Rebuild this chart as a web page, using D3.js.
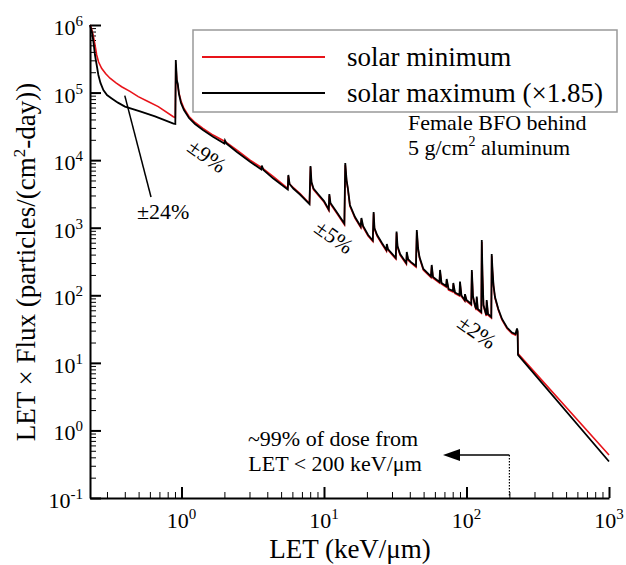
<!DOCTYPE html>
<html>
<head>
<meta charset="utf-8">
<script src="https://cdn.jsdelivr.net/npm/d3@7"></script>
<style>
  body { margin: 0; background: #fff; }
  svg { display: block; }
  text { font-family: "Liberation Serif", "Times New Roman", Times, serif; }
</style>
</head>
<body>
<svg id="chart" width="626" height="565"></svg>
<script>
// LET (keV/um) vs LET x Flux
var solarMin = [
  [0.228, 1.0e6], [0.234, 8.7e5], [0.240, 7.1e5], [0.247, 5.1e5], [0.254, 3.6e5],
  [0.262, 2.83e5], [0.275, 2.29e5], [0.293, 1.91e5], [0.315, 1.63e5], [0.347, 1.39e5],
  [0.380, 1.22e5], [0.435, 1.04e5], [0.497, 8.7e4], [0.582, 7.4e4], [0.687, 6.2e4],
  [0.876, 4.4e4], [0.905, 4.28e4], [0.912, 2.65e5], [0.927, 1.53e5], [0.942, 1.25e5],
  [0.960, 9.9e4], [0.992, 7.5e4], [1.041, 5.81e4], [1.129, 4.43e4], [1.244, 3.61e4],
  [1.415, 2.96e4], [1.664, 2.35e4], [2.02, 1.89e4], [2.45, 1.41e4], [3.03, 1.0e4],
  [3.66, 7.71e3], [4.39, 5.73e3], [5.57, 3.83e3], [5.62, 5.82e3], [5.73, 4.44e3],
  [6.09, 3.94e3], [6.79, 3.21e3], [7.91, 2.28e3], [8.04, 7.91e3], [8.17, 4.59e3],
  [8.44, 3.67e3], [9.08, 3.05e3], [10.0, 2.40e3], [10.8, 1.80e3], [10.9, 3.0e3],
  [11.1, 2.24e3], [12.2, 1.68e3], [13.9, 1.11e3], [14.1, 8.47e3], [14.4, 4.91e3],
  [14.7, 3.74e3], [15.2, 2.09e3], [16.5, 1.39e3], [18.1, 1.01e3], [18.3, 1.32e3],
  [18.8, 1.02e3], [20.4, 753], [22.0, 625], [22.3, 1.62e3], [22.6, 957],
  [23.6, 753], [25.5, 574], [27.4, 452], [27.6, 546], [28.1, 468],
  [31.9, 344], [32.3, 836], [32.8, 518], [34.2, 394], [37.8, 290],
  [38.1, 415], [38.9, 333], [40.8, 301], [44.2, 262], [44.8, 863],
  [45.7, 484], [46.8, 356], [49.8, 237], [56.3, 183], [57.0, 267],
  [58.2, 180], [64.6, 152], [65.2, 225], [66.8, 147], [72.0, 132],
  [72.6, 166], [74.8, 120], [80.4, 112], [80.8, 144], [83.0, 106],
  [89.3, 97.5], [90.0, 152], [92.2, 95.9], [97.1, 82.2], [97.6, 99.3],
  [100, 82.2], [108, 71.8], [109, 221], [111, 94.2], [115, 67.0],
  [117, 60.5], [118, 91.2], [120, 60.5], [127, 54.7], [128, 614],
  [129.5, 193], [131.6, 69.3], [137.7, 49.3], [138.6, 80.9], [141.6, 51.0],
  [149.3, 46.1], [150.3, 381], [152.2, 225], [154.7, 137], [158.5, 91.2],
  [167.2, 60.5], [177.5, 43.1], [192.4, 32.2], [208.6, 27.2], [220.8, 25.8],
  [226.2, 31.1], [228.4, 28.6], [229.8, 13.7], [1000, 0.433]
];

var solarMax = [
  [0.228, 1.0e6], [0.236, 7.6e5], [0.241, 5.6e5], [0.247, 3.6e5], [0.254, 2.56e5],
  [0.261, 1.82e5], [0.270, 1.39e5], [0.283, 1.09e5], [0.300, 9.2e4], [0.324, 8.2e4],
  [0.358, 7.1e4], [0.401, 6.2e4], [0.512, 5.25e4], [0.652, 4.43e4], [0.879, 3.48e4],
  [0.905, 3.43e4], [0.912, 3.03e5], [0.927, 1.53e5], [0.942, 1.34e5], [0.960, 9.5e4],
  [0.992, 7.0e4], [1.041, 5.52e4], [1.129, 4.2e4], [1.244, 3.43e4], [1.415, 2.79e4],
  [1.664, 2.22e4], [2.00, 1.76e4], [2.02, 1.95e4], [2.07, 1.76e4], [2.45, 1.32e4],
  [3.03, 9.48e3], [3.63, 7.27e3], [3.66, 8.33e3], [3.76, 7.15e3], [4.39, 5.38e3],
  [5.57, 3.67e3], [5.62, 6.03e3], [5.73, 4.44e3], [6.09, 3.80e3], [6.79, 3.10e3],
  [7.91, 2.24e3], [8.04, 8.18e3], [8.17, 4.74e3], [8.44, 3.80e3], [9.08, 3.15e3],
  [10.0, 2.48e3], [10.8, 1.86e3], [10.9, 3.15e3], [11.1, 2.32e3], [12.2, 1.74e3],
  [13.9, 1.15e3], [14.1, 9.08e3], [14.4, 5.08e3], [14.7, 3.87e3], [15.2, 2.17e3],
  [16.5, 1.44e3], [18.1, 1.04e3], [18.3, 1.39e3], [18.8, 1.06e3], [20.4, 780],
  [22.0, 647], [22.3, 1.71e3], [22.6, 991], [23.6, 780], [25.5, 594],
  [27.4, 468], [27.6, 574], [28.1, 484], [31.9, 356], [32.3, 879],
  [32.8, 536], [34.2, 408], [37.8, 301], [38.1, 437], [38.9, 344],
  [40.8, 310], [44.2, 271], [44.8, 925], [45.7, 501], [46.8, 368],
  [49.8, 245], [56.3, 190], [57.0, 281], [58.2, 186], [64.6, 157],
  [65.2, 237], [66.8, 152], [72.0, 137], [72.6, 174], [74.8, 124],
  [80.4, 116], [80.8, 152], [83.0, 110], [89.3, 101], [90.0, 160],
  [92.2, 99.3], [97.1, 85.1], [97.6, 104], [100, 85.1], [108, 74.3],
  [109, 237], [111, 97.5], [115, 69.3], [117, 62.7], [118, 95.9],
  [120, 62.7], [127, 56.5], [128, 658], [129.5, 200], [131.6, 71.8],
  [137.7, 51.0], [138.6, 85.1], [141.6, 52.8], [149.3, 47.7], [150.3, 408],
  [152.2, 237], [154.7, 142], [158.5, 94.2], [167.2, 62.7], [177.5, 44.6],
  [192.4, 33.3], [208.6, 28.1], [220.8, 26.7], [226.2, 32.2], [228.4, 29.6],
  [229.8, 13.1], [1000, 0.347]
];

var xMajor = [1, 10, 100, 1000];
var yMajor = [0.1, 1, 10, 100, 1e3, 1e4, 1e5, 1e6];
var legendNames = ["solar minimum", "solar maximum (\u00d71.85)"];
var seriesColors = ["#e8141a", "#000"];

var svg = d3.select("#chart");

var x = d3.scaleLog().domain([0.228, 1000]).range([90, 609]);
var y = d3.scaleLog().domain([0.1, 1e6]).range([498, 25]);

// minor ticks (log scale gives 1..9 per decade)
var xMinor = x.ticks().filter(function (d) { return xMajor.indexOf(d) < 0; });
var yMinor = y.ticks().filter(function (d) { return yMajor.indexOf(d) < 0; });

var gx = svg.append("g").attr("transform", "translate(0,498)");
gx.call(d3.axisBottom(x).tickValues(xMinor).tickSize(-6).tickSizeOuter(0).tickFormat(""));
gx.select(".domain").remove();
gx.selectAll("line").attr("stroke-width", 1);
var gx2 = svg.append("g").attr("transform", "translate(0,498)");
gx2.call(d3.axisBottom(x).tickValues(xMajor).tickSize(-11).tickSizeOuter(0).tickFormat(""));
gx2.selectAll("line").attr("stroke-width", 2);
gx2.select(".domain").attr("stroke-width", 2);

var gy = svg.append("g").attr("transform", "translate(90,0)");
gy.call(d3.axisLeft(y).tickValues(yMinor).tickSize(-6).tickSizeOuter(0).tickFormat(""));
gy.select(".domain").remove();
gy.selectAll("line").attr("stroke-width", 1);
var gy2 = svg.append("g").attr("transform", "translate(90,0)");
gy2.call(d3.axisLeft(y).tickValues(yMajor).tickSize(-11).tickSizeOuter(0).tickFormat(""));
gy2.selectAll("line").attr("stroke-width", 2);
gy2.select(".domain").attr("stroke-width", 2);

// power-of-ten labels
function powLabel(sel) {
  sel.each(function (d) {
    var t = d3.select(this);
    t.append("tspan").text("10");
    t.append("tspan").attr("dy", -9).style("font-size", "15px")
      .text(Math.round(Math.log10(d)));
  });
}

svg.selectAll(".ylab").data(yMajor).enter().append("text")
  .attr("class", "ylab")
  .attr("x", 83)
  .attr("y", function (d) { return y(d) + 10; })
  .attr("text-anchor", "end")
  .style("font-size", "22px")
  .call(powLabel);

svg.selectAll(".xlab").data(xMajor).enter().append("text")
  .attr("class", "xlab")
  .attr("x", function (d) { return x(d); })
  .attr("y", 528)
  .attr("text-anchor", "middle")
  .style("font-size", "22px")
  .call(powLabel);

// axis titles
svg.append("text")
  .attr("x", 350).attr("y", 558)
  .attr("text-anchor", "middle")
  .style("font-size", "27px")
  .text("LET (keV/\u03bcm)");

var yt = svg.append("text")
  .attr("transform", "translate(35,262) rotate(-90)")
  .attr("text-anchor", "middle")
  .style("font-size", "27px");
yt.append("tspan").text("LET \u00d7 Flux (particles/(cm");
yt.append("tspan").attr("dy", -10).style("font-size", "17px").text("2");
yt.append("tspan").attr("dy", 10).text("-day))");

// curves
var line = d3.line()
  .x(function (d) { return x(d[0]); })
  .y(function (d) { return y(d[1]); });

svg.append("path").datum(solarMin)
  .attr("d", line).attr("fill", "none")
  .attr("stroke", seriesColors[0]).attr("stroke-width", 1.6);

svg.append("path").datum(solarMax)
  .attr("d", line).attr("fill", "none")
  .attr("stroke", seriesColors[1]).attr("stroke-width", 1.8);

// legend
var lg = svg.append("g");
lg.append("rect")
  .attr("x", 193).attr("y", 30).attr("width", 424).attr("height", 82)
  .attr("fill", "#fff").attr("stroke", "#999").attr("stroke-width", 1.5);
legendNames.forEach(function (name, i) {
  var ly = 57 + i * 36;
  lg.append("line")
    .attr("x1", 202).attr("x2", 325).attr("y1", ly).attr("y2", ly)
    .attr("stroke", seriesColors[i]).attr("stroke-width", 2);
  lg.append("text")
    .attr("x", 347).attr("y", ly + 9)
    .style("font-size", "27px")
    .text(name);
});

svg.append("text")
  .attr("x", 408).attr("y", 130)
  .style("font-size", "22px")
  .text("Female BFO behind");
var t2 = svg.append("text")
  .attr("x", 408).attr("y", 155)
  .style("font-size", "22px");
t2.append("tspan").text("5 g/cm");
t2.append("tspan").attr("dy", -9).style("font-size", "14px").text("2");
t2.append("tspan").attr("dy", 9).text(" aluminum");

// uncertainty notes
svg.append("line")
  .attr("x1", x(0.40)).attr("y1", y(9.0e4))
  .attr("x2", x(0.611)).attr("y2", y(2.85e3))
  .attr("stroke", "#000").attr("stroke-width", 1.5);
svg.append("text")
  .attr("x", 137).attr("y", 219)
  .style("font-size", "22px")
  .text("\u00b124%");

var notes = [
  { text: "\u00b19%", cx: 207, cy: 156 },
  { text: "\u00b15%", cx: 334, cy: 237 },
  { text: "\u00b12%", cx: 477, cy: 332 }
];
svg.selectAll(".note").data(notes).enter().append("text")
  .attr("class", "note")
  .attr("transform", function (d) { return "translate(" + d.cx + "," + d.cy + ") rotate(35)"; })
  .attr("text-anchor", "middle")
  .attr("dominant-baseline", "central")
  .style("font-size", "22px")
  .text(function (d) { return d.text; });

// dose arrow
var xa = x(200);
svg.append("line")
  .attr("x1", xa).attr("x2", xa).attr("y1", 455).attr("y2", 497)
  .attr("stroke", "#000").attr("stroke-width", 1.2)
  .attr("stroke-dasharray", "1.5,1.5");
svg.append("line")
  .attr("x1", xa).attr("x2", 456).attr("y1", 455).attr("y2", 455)
  .attr("stroke", "#000").attr("stroke-width", 1.5);
svg.append("path")
  .attr("d", "M443,455 L460,449 L460,461 Z")
  .attr("fill", "#000");

svg.append("text")
  .attr("x", 333).attr("y", 446)
  .attr("text-anchor", "middle")
  .style("font-size", "22px")
  .text("~99% of dose from");
svg.append("text")
  .attr("x", 335).attr("y", 471)
  .attr("text-anchor", "middle")
  .style("font-size", "22px")
  .text("LET < 200 keV/\u03bcm");
</script>
</body>
</html>
